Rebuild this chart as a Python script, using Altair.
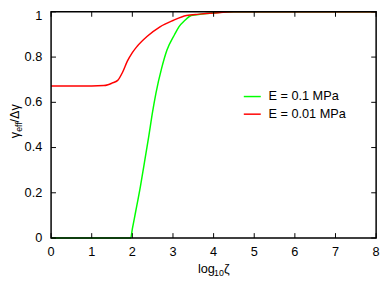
import altair as alt
import pandas as pd

# ---- data ----
series_names = ["E = 0.1 MPa", "E = 0.01 MPa"]
series_colors = ["#00ff00", "#ff0000"]

green_x = [0.0, 1.96, 2.0, 2.08, 2.2, 2.28, 2.4, 2.5, 2.58, 2.72, 2.85, 3.04, 3.15, 3.29, 3.45, 3.7, 4.0, 4.5, 8.0]
green_y = [0.0, 0.0, 0.04, 0.115, 0.23, 0.315, 0.445, 0.56, 0.64, 0.75, 0.83, 0.9, 0.935, 0.962, 0.984, 0.99, 0.995, 1.0, 1.0]

red_x = [0.0, 1.0, 1.3, 1.4, 1.5, 1.64, 1.76, 1.88, 2.0, 2.12, 2.36, 2.68, 3.0, 3.33, 3.65, 4.0, 4.5, 8.0]
red_y = [0.672, 0.672, 0.674, 0.678, 0.685, 0.697, 0.733, 0.783, 0.82, 0.848, 0.891, 0.934, 0.962, 0.984, 0.99, 0.995, 1.0, 1.0]

x_ticks = [0, 1, 2, 3, 4, 5, 6, 7, 8]
x_tick_labels = ["0", "1", "2", "3", "4", "5", "6", "7", "8"]
y_ticks = [0, 0.2, 0.4, 0.6, 0.8, 1.0]
y_tick_labels = ["0", "0.2", "0.4", "0.6", "0.8", "1"]

x_title_parts = ["log", "10", " \u03b6"]
y_title_parts = ["\u03b3", "eff", " /\u0394\u03b3"]

# ---- layout ----
W, H = 332, 231
FONT = "Liberation Sans"
FS = 13
TICK = 5

rows = []
for n, xs, ys in [(series_names[0], green_x, green_y), (series_names[1], red_x, red_y)]:
    for i, (a, b) in enumerate(zip(xs, ys)):
        rows.append({"x": a, "y": b, "s": n, "o": i})
df = pd.DataFrame(rows)

xscale = alt.Scale(domain=[0, 8], nice=False, zero=False)
yscale = alt.Scale(domain=[0, 1], nice=False, zero=False)

lines = alt.Chart(df).mark_line(strokeWidth=1.5, interpolate="monotone").encode(
    x=alt.X("x:Q", scale=xscale, axis=None),
    y=alt.Y("y:Q", scale=yscale, axis=None),
    color=alt.Color("s:N", scale=alt.Scale(domain=series_names, range=series_colors),
                    legend=alt.Legend(orient="none", legendX=196, legendY=77, title=None,
                                      symbolType="stroke", symbolStrokeWidth=1.5, symbolSize=300,
                                      labelFont=FONT, labelFontSize=FS, labelColor="black",
                                      labelOffset=7, rowPadding=1, padding=0)),
    order="o:Q",
)

xt = pd.DataFrame({"v": x_ticks, "lab": x_tick_labels})
yt = pd.DataFrame({"v": y_ticks, "lab": y_tick_labels})
tick_style = dict(color="black", strokeWidth=1)

bx = alt.X("v:Q", scale=xscale, axis=None)
by = alt.Y("v:Q", scale=yscale, axis=None)
ticks_bottom = alt.Chart(xt).mark_rule(**tick_style).encode(x=bx, y=alt.value(H), y2=alt.value(H - TICK))
ticks_top = alt.Chart(xt).mark_rule(**tick_style).encode(x=bx, y=alt.value(0), y2=alt.value(TICK))
ticks_left = alt.Chart(yt).mark_rule(**tick_style).encode(y=by, x=alt.value(0), x2=alt.value(TICK))
ticks_right = alt.Chart(yt).mark_rule(**tick_style).encode(y=by, x=alt.value(W), x2=alt.value(W - TICK))

frame = alt.Chart(pd.DataFrame({"f": [0]})).mark_rect(
    filled=False, stroke="black", strokeWidth=1.5
).encode(x=alt.value(0), x2=alt.value(W), y=alt.value(0), y2=alt.value(H))

xlabels = alt.Chart(xt).mark_text(
    font=FONT, fontSize=FS, baseline="top", align="center", color="black"
).encode(x=bx, y=alt.value(H + 8), text="lab:N")

ylabels = alt.Chart(yt).transform_filter("datum.v < 1").mark_text(
    font=FONT, fontSize=FS, baseline="middle", align="right", color="black"
).encode(y=by, x=alt.value(-9), text="lab:N")

ylabel_top = alt.Chart(yt).transform_filter("datum.v >= 1").mark_text(
    font=FONT, fontSize=FS, baseline="middle", align="right", color="black", dy=4
).encode(y=by, x=alt.value(-9), text="lab:N")

def label(text, x, y, size, angle=0):
    return alt.Chart(pd.DataFrame({"t": [text]})).mark_text(
        font=FONT, fontSize=size, align="left", baseline="alphabetic", angle=angle, color="black"
    ).encode(x=alt.value(x), y=alt.value(y), text="t:N")

xt1 = label(x_title_parts[0], 150, 267, FS)
xt2 = label(x_title_parts[1], 150 + 16.5, 270, 9)
xt3 = label(x_title_parts[2], 150 + 26.5, 267, FS)

yt1 = label(y_title_parts[0], -33, 129, FS, 270)
yt2 = label(y_title_parts[1], -30, 122.5, 9, 270)
yt3 = label(y_title_parts[2], -33, 113, FS, 270)

chart = alt.layer(
    lines, frame, ticks_bottom, ticks_top, ticks_left, ticks_right,
    xlabels, ylabels, ylabel_top,
    xt1, xt2, xt3, yt1, yt2, yt3
).properties(
    width=W, height=H,
    autosize=alt.AutoSizeParams(type="none"),
    padding={"left": 44, "top": 1, "right": 6, "bottom": 43},
    background="white",
).configure_view(stroke=None)

chart.save("out.html", embed_options={"renderer": "svg", "actions": False})
